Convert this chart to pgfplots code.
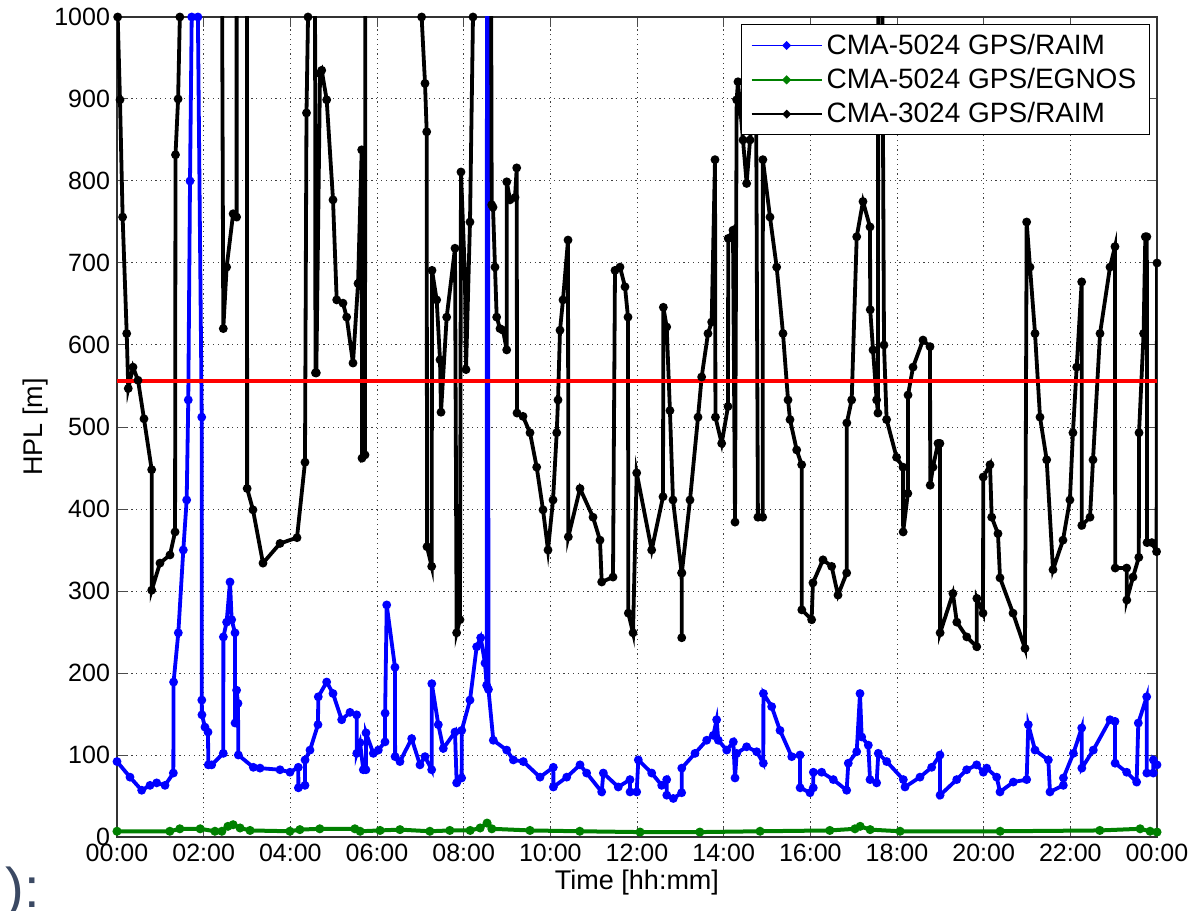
\documentclass[border=0pt]{standalone}
\usepackage{fontspec}
\setmainfont{Liberation Sans}
\usepackage{pgfplots}
\pgfplotsset{compat=1.18}
\definecolor{mgreen}{RGB}{0,128,0}
\definecolor{slate}{RGB}{59,73,99}
\begin{document}
\begin{tikzpicture}
\begin{axis}[
  scale only axis, width=520pt, height=410pt,
  xmin=0, xmax=24, ymin=0, ymax=1000,
  xtick={0,2,...,24},
  xticklabels={00:00,02:00,04:00,06:00,08:00,10:00,12:00,14:00,16:00,18:00,20:00,22:00,00:00},
  ytick={0,100,...,1000},
  /pgf/number format/assume math mode=true,
  /pgf/number format/1000 sep={},
  tick label style={font=\fontsize{12.5}{14}\selectfont},
  label style={font=\fontsize{13.5}{15}\selectfont},
  xlabel={Time [hh:mm]},
  ylabel={HPL [m]},
  xlabel style={yshift=3pt},
  ylabel style={yshift=-4pt},
  grid=major,
  grid style={black!75, line width=0.5pt, dash pattern=on 0.6pt off 1.8pt},
  tick align=inside,
  major tick length=5pt,
  tick style={black!70, line width=0.5pt},
  axis line style={line width=0.6pt, black!80},
  legend style={at={(0.993,0.991)}, anchor=north east, fill=white,
    font=\fontsize{14}{16.5}\selectfont, draw=black, line width=0.5pt,
    inner xsep=4.5pt, inner ysep=2.5pt, row sep=1.5pt, cells={anchor=west}},
  legend cell align=left,
  legend image code/.code={
    \draw[line width=0.9pt] (0pt,0pt) -- (35pt,0pt);
    \fill (17.5pt,0pt) circle (0.9pt);
  },
]
% CMA-5024 GPS/RAIM
\addplot[blue, line width=1.9pt, mark=*, mark size=1.2pt] coordinates {
(0,92)(0.3,73)(0.57,57)(0.762,63)(0.916,66)(1.108,63)(1.3,78)(1.306,189)(1.415,249)(1.53,350)(1.608,411)(1.645,533)(1.685,800)(1.724,1000)(1.742,1100)
(1.837,1100)(1.867,1000)(1.955,512)(1.957,167)(1.96,149)(2.03,134)(2.1,128)(2.107,88)(2.185,88)(2.453,102)(2.455,244)(2.53,262)(2.608,311)(2.646,265)(2.723,249)(2.725,139)(2.76,179)(2.792,163)(2.8,100)
(3.146,85)(3.3,84)(3.762,82)(3.992,79)(4.184,85)(4.186,60)(4.338,63)(4.34,94)(4.454,106)(4.638,137)(4.645,171)(4.839,189)(4.985,175)(5.185,143)(5.377,152)(5.53,149)(5.533,102)(5.608,115)(5.684,82)(5.744,82)(5.746,127)
(5.915,102)(6.03,106)(6.185,116)(6.187,151)(6.224,283)(6.415,207)(6.418,98)(6.53,92)(6.8,120)(6.992,88)(7.108,98)(7.262,82)(7.265,187)(7.415,137)(7.53,108)(7.8,128)(7.838,66)(7.953,72)(7.955,130)
(8.146,167)(8.3,232)(8.393,243)(8.492,212)(8.53,185)(8.538,1100)(8.561,1100)(8.572,180)(8.684,118)(8.993,106)(9.146,94)(9.376,92)(9.762,73)(10.069,85)(10.071,61)(10.378,73)(10.685,88)(10.838,78)
(11.185,55)(11.223,78)(11.568,61)(11.838,70)(11.84,55)(11.993,55)(12.03,94)(12.339,78)(12.57,63)(12.685,70)(12.687,51)(12.838,47)(13.03,54)(13.033,84)(13.338,102)(13.608,118)(13.76,124)(13.838,143)(13.876,118)
(14.07,106)(14.223,116)(14.262,72)(14.3,102)(14.53,110)(14.762,104)(14.915,90)(14.917,175)(15.108,159)(15.3,130)(15.57,98)(15.762,100)(15.764,60)(15.992,54)(16.068,60)(16.07,79)(16.262,79)(16.53,70)(16.838,57)
(16.876,90)(17.07,104)(17.146,175)(17.185,122)(17.338,112)(17.377,70)(17.53,66)(17.568,102)(17.762,92)(18.146,70)(18.185,61)(18.53,73)(18.8,85)(18.992,100)(18.994,51)(19.378,70)(19.608,82)(19.838,88)(19.992,79)
(20.07,84)(20.3,73)(20.377,55)(20.684,67)(20.992,70)(21.03,137)(21.185,106)(21.492,94)(21.53,55)(21.838,63)(21.84,72)(22.07,102)(22.262,133)(22.265,84)(22.53,106)(22.915,143)(23.03,141)(23.033,90)(23.3,79)
(23.53,67)(23.568,139)(23.762,171)(23.765,78)(23.915,78)(23.917,94)(24,88)
};
\addlegendentry{CMA-5024 GPS/RAIM}
% CMA-5024 GPS/EGNOS
\addplot[mgreen, line width=2pt, mark=*, mark size=1.2pt] coordinates {
(0,7)(1.22,7)(1.45,10)(1.92,10)(2.26,7)(2.42,7)(2.56,13)(2.68,15)(2.84,11)(3.07,8)(3.99,7)(4.22,9)(4.68,10)(5.49,10)(5.61,7)(6.07,8)(6.53,9)(7.22,7)(7.68,8)(8.15,8)(8.38,11)(8.54,17)(8.65,10)(9.53,8)
(10.68,7)(12.07,6)(13.45,6)(14.84,7)(16.45,8)(17.03,10)(17.15,13)(17.38,9)(18.07,7)(20.38,7)(22.68,8)(23.61,10)(23.84,7)(24,6)
};
\addlegendentry{CMA-5024 GPS/EGNOS}
% CMA-3024 GPS/RAIM
\addplot[black, line width=1.9pt, mark=*, mark size=1.2pt] coordinates {
(0.016,1000)(0.069,899)(0.13,756)(0.224,614)(0.26,547)(0.369,573)(0.485,557)(0.623,510)(0.80,448)(0.801,301)(0.992,334)(1.223,344)(1.34,372)(1.35,832)(1.41,900)(1.45,1000)(1.50,1100)
(2.42,1100)(2.453,620)(2.53,695)(2.68,760)(2.76,756)(2.761,1100)(3.0,1100)(3.003,425)(3.138,399)(3.369,334)(3.762,358)(4.154,365)(4.338,457)(4.373,883)(4.408,1000)(4.43,1100)
(4.569,1100)(4.58,566)(4.60,566)(4.685,931)(4.724,935)(4.839,899)(4.985,777)(5.07,655)(5.215,651)(5.3,634)(5.446,578)(5.562,675)(5.647,838)(5.654,462)(5.723,466)(5.73,1100)
(7.015,1100)(7.03,1000)(7.108,919)(7.147,860)(7.154,354)(7.262,330)(7.27,691)(7.377,655)(7.454,582)(7.477,518)(7.608,634)(7.8,718)(7.838,249)(7.915,265)(7.938,811)(8.03,683)(8.054,570)(8.146,750)(8.215,1000)(8.24,1100)
(8.631,1100)(8.647,771)(8.677,768)(8.723,695)(8.762,634)(8.838,620)(8.908,618)(8.993,594)(8.995,799)(9.069,777)(9.185,780)(9.224,816)(9.231,517)(9.369,513)(9.531,493)(9.685,451)(9.831,399)(9.946,350)
(10.062,411)(10.147,493)(10.177,533)(10.223,618)(10.292,655)(10.408,728)(10.415,366)(10.685,425)(10.985,390)(11.146,362)(11.185,311)(11.446,317)(11.492,691)(11.608,695)(11.723,671)(11.792,634)(11.8,273)(11.908,249)
(11.993,444)(12.339,350)(12.6,415)(12.608,646)(12.685,622)(12.76,520)(12.83,411)(13.03,322)(13.032,243)(13.034,322)(13.223,411)(13.408,512)(13.492,561)(13.638,614)(13.723,628)(13.8,826)(13.81,512)(13.954,480)
(14.1,525)(14.105,730)(14.215,740)(14.262,384)(14.3,899)(14.33,921)(14.446,850)(14.53,797)(14.608,850)(14.654,880)(14.75,880)(14.79,390)(14.9,390)(14.905,826)(15.069,756)(15.223,695)(15.369,614)(15.485,533)
(15.531,509)(15.685,472)(15.8,454)(15.803,277)(16.03,265)(16.06,310)(16.292,338)(16.492,330)(16.638,295)(16.839,322)(16.842,505)(16.954,533)(17.07,732)(17.215,775)(17.377,744)(17.382,643)(17.446,594)(17.53,533)
(17.56,517)(17.568,1100)(17.654,1100)(17.7,600)(17.76,509)(17.99,463)(18.138,451)(18.142,372)(18.25,419)(18.254,539)(18.37,573)(18.6,606)(18.762,598)(18.766,429)(18.83,451)(18.946,480)(18.99,480)(18.995,249)
(19.29,297)(19.38,262)(19.61,244)(19.84,232)(19.843,291)(19.985,273)(19.99,439)(20.146,454)(20.185,390)(20.33,370)(20.377,316)(20.677,273)(20.954,230)(20.992,750)(21.069,695)(21.185,614)(21.3,512)(21.454,460)
(21.6,326)(21.83,362)(21.99,411)(22.06,493)(22.146,573)(22.262,677)(22.265,380)(22.454,390)(22.523,460)(22.685,614)(22.915,695)(23.03,720)(23.035,328)(23.3,328)(23.303,289)(23.446,317)(23.58,341)(23.585,493)
(23.69,614)(23.73,732)(23.765,732)(23.77,359)(23.88,359)(23.99,348)(24,700)
};
\addlegendentry{CMA-3024 GPS/RAIM}
% threshold
\addplot[red, line width=1.8pt, forget plot] coordinates {(0,556)(24,556)};
\end{axis}
\node[anchor=base west, inner sep=0pt, text=slate, font=\fontsize{28}{30}\selectfont]
  at ([shift={(-56pt,-35pt)}]current axis.south west) {):};
\pgfresetboundingbox
\path ([shift={(-58.5pt,-36.5pt)}]current axis.south west) rectangle ([shift={(19.5pt,8.5pt)}]current axis.north east);
\end{tikzpicture}
\end{document}
